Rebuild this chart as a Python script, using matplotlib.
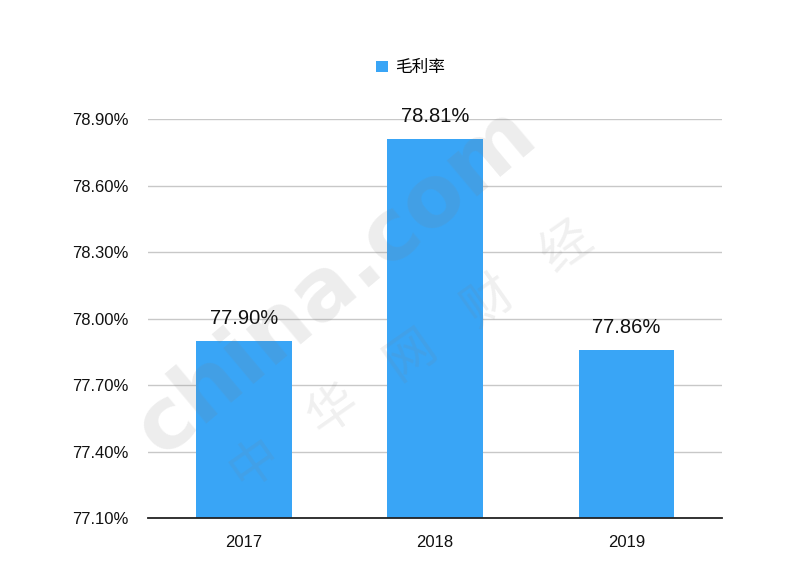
import matplotlib
matplotlib.use('Agg')
import matplotlib.pyplot as plt
from matplotlib.ticker import FuncFormatter, MultipleLocator

plt.rcParams['font.family'] = ['Liberation Sans', 'Noto Sans CJK SC', 'DejaVu Sans']

# data
years = ['2017', '2018', '2019']
gross_margin = [77.90, 78.81, 77.86]
series_name = '毛利率'

bar_color = '#39a5f6'

fig = plt.figure(figsize=(8, 5.75), dpi=100)
ax = fig.add_axes([0.185, 0.099, 0.7175, 0.694])

x = range(len(years))
bars = ax.bar(x, gross_margin, width=0.5, color=bar_color, label=series_name, zorder=3)

ax.set_ylim(77.10, 78.90)
ax.set_xlim(-0.5, len(years) - 0.5)
ax.yaxis.set_major_locator(MultipleLocator(0.30))
ax.yaxis.set_major_formatter(FuncFormatter(lambda v, p: '%.2f%%' % v))
ax.set_xticks(list(x))
ax.set_xticklabels(years, fontsize=12)
ax.tick_params(axis='y', labelsize=12, length=0, pad=14, labelcolor='#111111')
ax.tick_params(axis='x', length=0, pad=12, labelcolor='#111111')

ax.grid(axis='y', color='#c8c8c8', linewidth=1, zorder=0)
for side in ['top', 'right', 'left']:
	ax.spines[side].set_visible(False)
ax.spines['bottom'].set_color('#222222')
ax.spines['bottom'].set_linewidth(1.3)
ax.spines['bottom'].set_zorder(4)

# value labels above bars
for rect, val in zip(bars, gross_margin):
	ax.annotate('%.2f%%' % val, (rect.get_x() + rect.get_width() / 2, val),
				xytext=(0, 9), textcoords='offset points', ha='center', va='bottom',
				fontsize=14.5, color='#111111', annotation_clip=False)

leg = fig.legend(loc='center', bbox_to_anchor=(0.513, 0.882), frameon=False,
				 fontsize=12, handlelength=0.7, handleheight=0.7, handletextpad=0.4)

# watermark
fig.text(0.42, 0.51, 'china.com', fontsize=62, fontweight='bold', color='gray',
		 alpha=0.14, rotation=40, ha='center', va='center', zorder=10,
		 family='DejaVu Sans')
fig.text(0.515, 0.38, '中    华    网    财    经', fontsize=36, color='gray', alpha=0.12,
		 rotation=35, ha='center', va='center', zorder=10,
		 family=['Noto Sans CJK SC'])

fig.savefig('out.png', dpi=100)
